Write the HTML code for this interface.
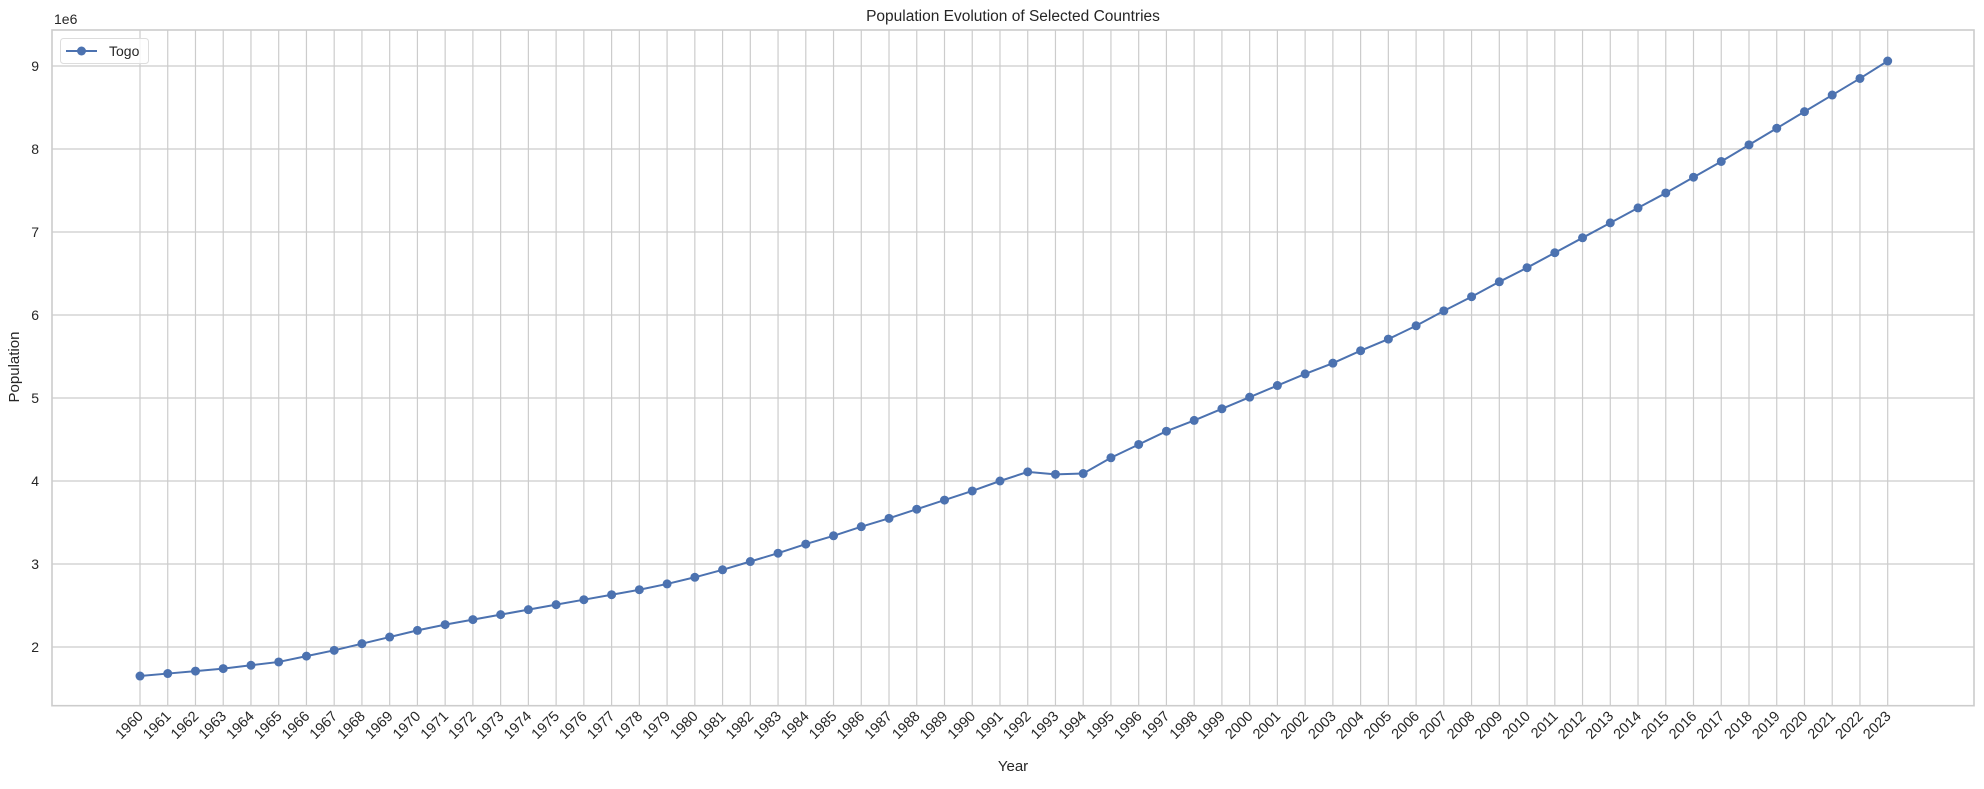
<!DOCTYPE html>
<html><head><meta charset="utf-8"><style>
body{margin:0;background:#fff;}
svg text{font-family:"Liberation Sans",Arial,sans-serif;fill:#262626;}
</style></head><body>
<svg id="chart" width="1984" height="784" xmlns="http://www.w3.org/2000/svg">
<rect x="0" y="0" width="1984" height="784" fill="#fff"/>
<g id="grid"></g>
<rect x="52" y="30" width="1922" height="675.7" fill="none" stroke="#cccccc" stroke-width="1.6"/>
<g id="ticks"></g>
<g id="series"></g>
<text x="1013" y="21" text-anchor="middle" font-size="15.5">Population Evolution of Selected Countries</text>
<text x="1013" y="771" text-anchor="middle" font-size="15">Year</text>
<text transform="translate(19,367) rotate(-90)" text-anchor="middle" font-size="15">Population</text>
<text x="54" y="24" font-size="14">1e6</text>
<g>
<rect x="60.5" y="38.5" width="88" height="25" rx="3" fill="#fff" fill-opacity="0.8" stroke="#dddddd"/>
<line x1="66" y1="51" x2="97" y2="51" stroke="#4c72b0" stroke-width="2"/>
<circle cx="81.5" cy="51" r="4.5" fill="#4c72b0"/>
<text x="109" y="56" font-size="14">Togo</text>
</g>
</svg>
<script>
const years = [];
for (let y = 1960; y <= 2023; y++) years.push(y);
const population = [1.65,1.68,1.71,1.74,1.78,1.82,1.89,1.96,2.04,2.12,2.20,2.27,2.33,2.39,2.45,2.51,2.57,2.63,2.69,2.76,2.84,2.93,3.03,3.13,3.24,3.34,3.45,3.55,3.66,3.77,3.88,4.00,4.11,4.08,4.09,4.28,4.44,4.60,4.73,4.87,5.01,5.15,5.29,5.42,5.57,5.71,5.87,6.05,6.22,6.40,6.57,6.75,6.93,7.11,7.29,7.47,7.66,7.85,8.05,8.25,8.45,8.65,8.85,9.06];
const yTicks = [2,3,4,5,6,7,8,9];

const NS = "http://www.w3.org/2000/svg";
const xScale = i => 140 + i * (1887.7 - 140) / 63;
const yScale = v => 647 - (v - 2) * 83;
function mk(tag, attrs, parent) {
  const e = document.createElementNS(NS, tag);
  for (const k in attrs) e.setAttribute(k, attrs[k]);
  parent.appendChild(e);
  return e;
}
const grid = document.getElementById('grid');
const ticks = document.getElementById('ticks');
const series = document.getElementById('series');

years.forEach((yr, i) => {
  const x = xScale(i);
  const gl = mk('line', {x1: x, x2: x, y1: 30, y2: 705.7, stroke: '#cccccc', 'stroke-width': 1.2}, grid);
  
  
  const t = mk('text', {transform: `translate(${x + 4},${717}) rotate(-45)`, 'text-anchor': 'end', 'font-size': 14.5}, ticks);
  t.textContent = yr;
  
  
});
yTicks.forEach(v => {
  const y = yScale(v);
  const gl = mk('line', {x1: 52, x2: 1974, y1: y, y2: y, stroke: '#cccccc', 'stroke-width': 1.2}, grid);
  
  
  const t = mk('text', {x: 39, y: y + 5, 'text-anchor': 'end', 'font-size': 14}, ticks);
  t.textContent = v;
  
  
});
const pts = population.map((v, i) => xScale(i) + ',' + yScale(v)).join(' ');
const line = mk('polyline', {points: pts, fill: 'none', stroke: '#4c72b0', 'stroke-width': 2}, series);


population.forEach((v, i) => {
  const c = mk('circle', {cx: xScale(i), cy: yScale(v), r: 4.5, fill: '#4c72b0'}, series);
  
  
});
</script>
</body></html>
